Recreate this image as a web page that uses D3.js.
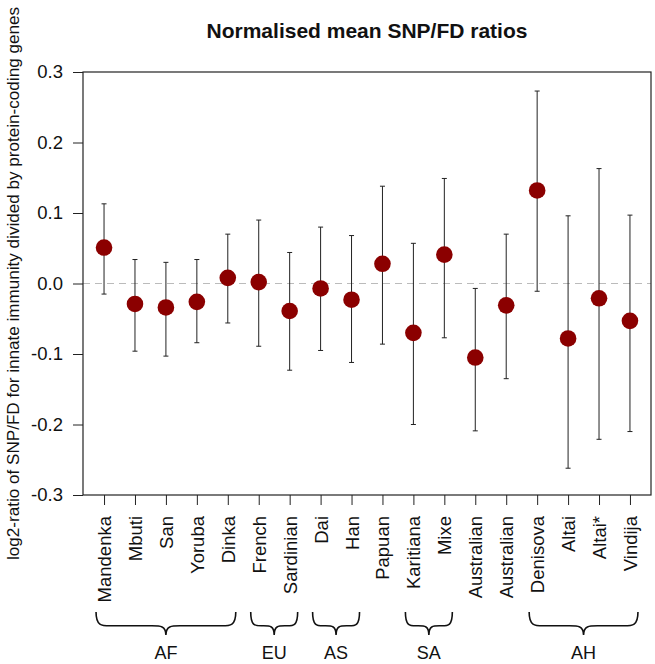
<!DOCTYPE html>
<html>
<head>
<meta charset="utf-8">
<script src="https://cdn.jsdelivr.net/npm/d3@7"></script>
<style>
  body { margin: 0; background: #fff; }
  text { font-family: "Liberation Sans", Arial, sans-serif; }
</style>
</head>
<body>
<div id="chart"></div>
<script>
// populations, means and error bar ends
var populations = ["Mandenka","Mbuti","San","Yoruba","Dinka","French","Sardinian","Dai","Han",
                   "Papuan","Karitiana","Mixe","Australian","Australian","Denisova","Altai","Altai*","Vindija"];
var means = [0.051,-0.029,-0.034,-0.026,0.008,0.002,-0.039,-0.007,-0.023,
             0.028,-0.070,0.041,-0.105,-0.031,0.132,-0.078,-0.021,-0.053];
var upper = [0.113,0.034,0.030,0.034,0.070,0.090,0.044,0.080,0.068,
             0.138,0.057,0.149,-0.007,0.070,0.273,0.096,0.163,0.097];
var lower = [-0.015,-0.096,-0.103,-0.084,-0.056,-0.089,-0.123,-0.095,-0.112,
             -0.086,-0.200,-0.077,-0.209,-0.135,-0.011,-0.262,-0.221,-0.210];
var yTicks = [-0.3,-0.2,-0.1,0.0,0.1,0.2,0.3];
// groups: label, first index, last index
var groups = [
  {name: "AF", from: 0, to: 4},
  {name: "EU", from: 5, to: 6},
  {name: "AS", from: 7, to: 8},
  {name: "SA", from: 10, to: 11},
  {name: "AH", from: 14, to: 17}
];

var W = 655, H = 664;
var margin = {top: 72, right: 4, bottom: 169, left: 83},
    width = W - margin.left - margin.right,
    height = H - margin.top - margin.bottom;

var svg = d3.select("#chart").append("svg")
    .attr("width", W).attr("height", H);

var g = svg.append("g")
    .attr("transform", "translate(" + margin.left + "," + margin.top + ")");

var idx = d3.range(populations.length);
var n = populations.length;
var pad = (n - 1) * 0.04;
var x = d3.scaleLinear().domain([-pad, n - 1 + pad]).range([0, width]);
var y = d3.scaleLinear().domain([-0.3, 0.3]).range([height, 0]);

// zero line
g.append("line")
    .attr("x1", 0).attr("x2", width)
    .attr("y1", y(0)).attr("y2", y(0))
    .attr("stroke", "#bbb").attr("stroke-width", 1.2)
    .attr("stroke-dasharray", "7,5");

// error bars
var eb = g.selectAll(".eb").data(idx).enter().append("g").attr("class", "eb");
eb.append("line")
    .attr("x1", function(i){ return x(i); }).attr("x2", function(i){ return x(i); })
    .attr("y1", function(i){ return y(upper[i]); }).attr("y2", function(i){ return y(lower[i]); })
    .attr("stroke", "#222").attr("stroke-width", 1);
eb.append("line")
    .attr("x1", function(i){ return x(i) - 2.5; }).attr("x2", function(i){ return x(i) + 2.5; })
    .attr("y1", function(i){ return y(upper[i]); }).attr("y2", function(i){ return y(upper[i]); })
    .attr("stroke", "#222").attr("stroke-width", 1);
eb.append("line")
    .attr("x1", function(i){ return x(i) - 2.5; }).attr("x2", function(i){ return x(i) + 2.5; })
    .attr("y1", function(i){ return y(lower[i]); }).attr("y2", function(i){ return y(lower[i]); })
    .attr("stroke", "#222").attr("stroke-width", 1);

// points
g.selectAll(".pt").data(idx).enter().append("circle")
    .attr("class", "pt")
    .attr("cx", function(i){ return x(i); })
    .attr("cy", function(i){ return y(means[i]); })
    .attr("r", 8.3)
    .attr("fill", "#8b0000");

// box
g.append("rect")
    .attr("width", width).attr("height", height)
    .attr("fill", "none").attr("stroke", "#222").attr("stroke-width", 1.2);

// y axis
var yAxis = g.append("g")
    .call(d3.axisLeft(y).tickValues(yTicks).tickSize(10).tickPadding(10));
yAxis.select(".domain").remove();
yAxis.selectAll("line").attr("stroke", "#222");
yAxis.selectAll("text").attr("font-size", 18.5).attr("fill", "#111")
    .text(function(d){ return d3.format(".1f")(d).replace("\u2212", "-"); });

// x axis
var xAxis = g.append("g")
    .attr("transform", "translate(0," + height + ")")
    .call(d3.axisBottom(x).tickValues(idx).tickFormat(function(i){ return populations[i]; }).tickSize(10));
xAxis.select(".domain").remove();
xAxis.selectAll("line").attr("stroke", "#222");
xAxis.selectAll("text")
    .attr("font-size", 18.5).attr("fill", "#111")
    .attr("transform", "rotate(-90)")
    .attr("text-anchor", "end")
    .attr("x", -21).attr("y", 0).attr("dy", "0.35em");

// group braces
function brace(x1, x2, y0, h) {
  var m = (x1 + x2) / 2, q = h * 0.6;
  var a = Math.min(14, (m - x1) * 0.45);
  return "M" + x1 + "," + y0 +
    " C" + x1 + "," + (y0 + q) + " " + (x1 + a * 0.4) + "," + (y0 + q) + " " + (x1 + a) + "," + (y0 + q) +
    " L" + (m - a) + "," + (y0 + q) +
    " C" + (m - a * 0.4) + "," + (y0 + q) + " " + m + "," + (y0 + q) + " " + m + "," + (y0 + h) +
    " C" + m + "," + (y0 + q) + " " + (m + a * 0.4) + "," + (y0 + q) + " " + (m + a) + "," + (y0 + q) +
    " L" + (x2 - a) + "," + (y0 + q) +
    " C" + (x2 - a * 0.4) + "," + (y0 + q) + " " + x2 + "," + (y0 + q) + " " + x2 + "," + y0;
}
var gg = g.selectAll(".grp").data(groups).enter().append("g").attr("class", "grp");
gg.append("path")
    .attr("d", function(d){ return brace(x(d.from) - 8, x(d.to) + 8, 612 - margin.top, 23); })
    .attr("fill", "none").attr("stroke", "#111").attr("stroke-width", 1.6);
gg.append("text")
    .attr("x", function(d){ return (x(d.from) + x(d.to)) / 2; })
    .attr("y", 659 - margin.top)
    .attr("text-anchor", "middle")
    .attr("font-size", 18).attr("fill", "#111")
    .text(function(d){ return d.name; });

// title
svg.append("text")
    .attr("x", margin.left + width / 2).attr("y", 38)
    .attr("text-anchor", "middle")
    .attr("font-size", 21).attr("font-weight", "bold").attr("fill", "#111")
    .text("Normalised mean SNP/FD ratios");

// y label
svg.append("text")
    .attr("transform", "translate(19," + (margin.top + height / 2) + ") rotate(-90)")
    .attr("text-anchor", "middle")
    .attr("font-size", 17.1).attr("fill", "#111")
    .text("log2-ratio of SNP/FD for innate immunity divided by protein-coding genes");
</script>
</body>
</html>
